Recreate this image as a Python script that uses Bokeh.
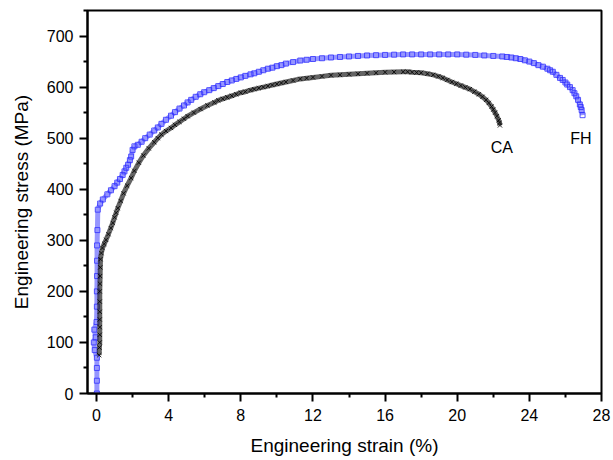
from bokeh.plotting import figure
from bokeh.models import Range1d, FixedTicker, Label
from bokeh.embed import file_html
from bokeh.resources import INLINE

# FH (blue squares): engineering strain (%), engineering stress (MPa)
fh_strain = [0.02, 0.02, 0.02, 0.02, -0.1, -0.15, -0.05, -0.12, 0.0, 0.02, 0.02, 0.03, 0.03, 0.03,
             0.05, 0.07, 0.2, 0.35, 0.6, 0.8, 1.0, 1.15, 1.3, 1.45, 1.55, 1.65, 1.75, 1.85,
             1.92, 2.0, 2.1, 2.29, 2.5, 2.7, 2.95, 3.2, 3.4, 3.6, 3.85, 4.13, 4.35, 4.6, 4.85,
             5.05, 5.25, 5.5, 5.75, 5.97, 6.25, 6.5, 6.75, 7.0, 7.25, 7.5, 7.75, 8.0, 8.25,
             8.54, 8.75, 9.0, 9.25, 9.5, 9.75, 10.0, 10.25, 10.5, 10.9, 11.3, 11.65, 12.0,
             12.5, 13.0, 13.5, 14.0, 14.5, 15.0, 15.5, 16.0, 16.5, 17.0, 17.5, 18.0, 18.5,
             19.0, 19.5, 20.0, 20.5, 21.0, 21.5, 22.0, 22.5, 22.75, 23.0, 23.25, 23.5, 23.75,
             24.0, 24.25, 24.5, 24.75, 25.0, 25.15, 25.3, 25.5, 25.7, 25.85, 26.0, 26.1,
             26.25, 26.4, 26.5, 26.6, 26.7, 26.8, 26.85, 26.9, 26.95]
fh_stress = [0, 25, 50, 70, 85, 100, 110, 125, 140, 170, 200, 230, 260, 290,
             320, 360, 372, 380, 390, 398, 406, 413, 420, 428, 435, 442, 448, 457,
             464, 477, 484, 487, 493, 500, 507, 515, 521, 528, 536, 544, 551, 558, 564,
             570, 575, 581, 586, 590, 594, 598, 602, 606, 610, 613, 616, 619, 622,
             625, 627, 630, 633, 636, 638, 641, 643, 646, 649, 652, 653.5, 655,
             656.5, 658, 659, 660, 661, 662, 662.5, 663, 663.5, 664, 664, 664, 664,
             664, 664, 664, 663.5, 663, 662, 661, 660, 659, 658, 656.5, 655, 652.5,
             650, 647, 643, 640, 636, 633, 630, 624, 618, 614, 609, 605,
             600, 594, 588, 582, 575, 566, 561, 555, 545]

# CA (black crosses)
ca_strain = [0.15, 0.16, 0.18, 0.18, 0.18, 0.18, 0.18, 0.18, 0.18, 0.19, 0.2, 0.21, 0.22, 0.27,
             0.33, 0.43, 0.53, 0.66, 0.79, 0.9, 1.0, 1.09, 1.18, 1.34, 1.5, 1.7, 1.92, 2.1,
             2.35, 2.6, 2.9, 3.2, 3.4, 3.6, 3.85, 4.13, 4.35, 4.6, 4.85, 5.05, 5.4, 5.77,
             6.15, 6.53, 6.75, 7.0, 7.25, 7.5, 7.75, 8.0, 8.25, 8.54, 8.75, 9.0, 9.25, 9.5,
             9.75, 10.0, 10.25, 10.5, 10.9, 11.3, 11.65, 12.0, 12.5, 13.0, 13.5, 14.0, 14.5,
             15.0, 15.5, 16.0, 16.5, 17.0, 17.25, 17.5, 17.75, 18.0, 18.35, 18.67, 18.95,
             19.2, 19.45, 19.7, 19.95, 20.2, 20.45, 20.7, 20.95, 21.2, 21.4, 21.6, 21.75,
             21.9, 22.0, 22.1, 22.2, 22.3, 22.35, 22.37]
ca_stress = [75, 90, 100, 115, 130, 145, 160, 180, 200, 215, 230, 247, 263, 275,
             285, 293, 301, 312, 324, 334, 345, 354, 363, 377, 392, 407, 422, 436,
             452, 466, 480, 492, 500, 507, 514, 520, 526, 532, 538, 543, 550, 557,
             564, 570, 574, 577, 580, 583, 586, 589, 591, 594, 596, 598, 600, 602,
             604, 606, 608, 610, 613, 616, 617.5, 619, 621, 623, 624, 625, 626,
             627, 628, 629, 629.5, 630, 630, 629, 628.5, 628, 626, 624, 621,
             618, 614, 610, 606.5, 603, 599.5, 596, 591, 586, 581, 575, 569,
             562, 556, 550, 543, 535, 530, 525]

x_ticks = [0, 4, 8, 12, 16, 20, 24, 28]
x_minor = [2, 6, 10, 14, 18, 22, 26]
y_ticks = [0, 100, 200, 300, 400, 500, 600, 700]
y_minor = [50, 150, 250, 350, 450, 550, 650, 750]

labels = ["CA", "FH"]
label_x = [22.47, 26.86]
label_y = [481, 500]

FONT = "Liberation Sans"

p = figure(width=613, height=460, output_backend="svg", toolbar_location=None,
           x_range=Range1d(-0.5, 28), y_range=Range1d(0, 750),
           min_border_left=87, min_border_right=12, min_border_top=10, min_border_bottom=67)

p.xgrid.visible = False
p.ygrid.visible = False
p.outline_line_color = "black"
p.outline_line_width = 2
p.background_fill_color = "white"
p.border_fill_color = "white"

# curves
p.line(fh_strain, fh_stress, line_color="#6a6aff", line_width=5, line_alpha=0.7)
p.scatter(fh_strain, fh_stress, marker="square", size=5, line_color="#2f2fff",
          fill_color=None, line_width=1, line_alpha=0.8)
p.line(ca_strain, ca_stress, line_color="#222222", line_width=5, line_alpha=0.7)
p.scatter(ca_strain, ca_stress, marker="x", size=6, line_color="black", line_width=1,
          line_alpha=0.85)

for t, lx, ly in zip(labels, label_x, label_y):
    p.add_layout(Label(x=lx, y=ly, text=t, text_align="center", text_baseline="middle",
                       text_font=FONT, text_font_size="16px", text_color="black"))

p.xaxis.ticker = FixedTicker(ticks=x_ticks, minor_ticks=x_minor)
p.yaxis.ticker = FixedTicker(ticks=y_ticks, minor_ticks=y_minor)
p.xaxis.axis_label = "Engineering strain (%)"
p.yaxis.axis_label = "Engineering stress (MPa)"

for ax in (p.xaxis, p.yaxis):
    ax.axis_line_width = 2
    ax.axis_line_color = "black"
    ax.major_tick_in = 0
    ax.major_tick_out = 8
    ax.minor_tick_in = 0
    ax.minor_tick_out = 4
    ax.major_tick_line_width = 2
    ax.minor_tick_line_width = 2
    ax.major_label_text_font = FONT
    ax.major_label_text_font_size = "16px"
    ax.major_label_text_color = "black"
    ax.axis_label_text_font = FONT
    ax.axis_label_text_font_size = "19px"
    ax.axis_label_text_font_style = "normal"
    ax.axis_label_text_color = "black"

p.xaxis.major_label_standoff = 7
p.yaxis.major_label_standoff = 6
p.xaxis.axis_label_standoff = 11
p.yaxis.axis_label_standoff = 12

open("out.html", "w").write(file_html(p, INLINE))
